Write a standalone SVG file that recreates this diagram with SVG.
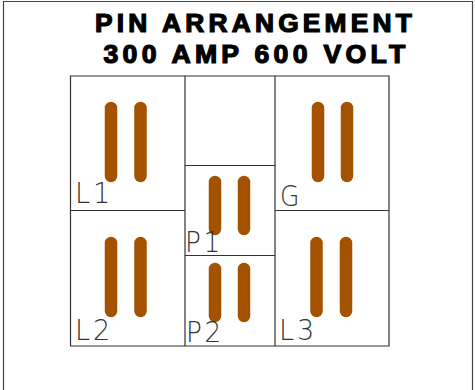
<svg xmlns="http://www.w3.org/2000/svg" width="475" height="390" viewBox="0 0 475 390">
<style>
.t{font-family:"Liberation Sans",Arial,sans-serif;font-weight:700;font-size:25px;letter-spacing:4px;fill:#000;stroke:#000;stroke-width:1.2px}
.l{font-family:"DejaVu Sans",sans-serif;font-weight:200;font-size:29px;letter-spacing:3px;fill:#333}
.g{fill:none;stroke:#333;stroke-width:1.2}
.p{stroke:#a55200;stroke-width:12.500;stroke-linecap:round;fill:none}
</style>
<rect width="475" height="390" fill="#fff"/>
<path id="frame" d="M3.500 390V1.500H472.500V390" fill="none" stroke="#444" stroke-width="1.2"/>
<g id="title">
<text class="t" x="95" y="32" textLength="321" lengthAdjust="spacingAndGlyphs">PIN ARRANGEMENT</text>
<text class="t" x="103.500" y="63" textLength="306" lengthAdjust="spacingAndGlyphs">300 AMP 600 VOLT</text>
</g>
<g id="connectors"><path class="g" d="M70.500 76H389V346H70.500Z M185 76V346 M275 76V346 M70.500 210.500H185 M275 210.500H389 M185 165.500H275 M185 255.500H275"/></g>
<g id="L1"><path class="p" d="M111 108V176M140.500 108V176"/><text class="l" x="75" y="203" textLength="38" lengthAdjust="spacingAndGlyphs">L1</text></g>
<g id="L2"><path class="p" d="M111 243V311M140.500 243V311"/><text class="l" x="75" y="340" textLength="38" lengthAdjust="spacingAndGlyphs">L2</text></g>
<g id="P1"><path class="p" d="M215 182V229M244 182V229"/><text class="l" x="185" y="252" textLength="38" lengthAdjust="spacingAndGlyphs">P1</text></g>
<g id="P2"><path class="p" d="M215 269V316M244 269V316"/><text class="l" x="186" y="342" textLength="38" lengthAdjust="spacingAndGlyphs">P2</text></g>
<g id="G"><path class="p" d="M318 108V176M347 108V176"/><text class="l" x="280" y="206" textLength="22" lengthAdjust="spacingAndGlyphs">G</text></g>
<g id="L3"><path class="p" d="M316.500 243V311M346 243V311"/><text class="l" x="279" y="340" textLength="38" lengthAdjust="spacingAndGlyphs">L3</text></g>
</svg>
